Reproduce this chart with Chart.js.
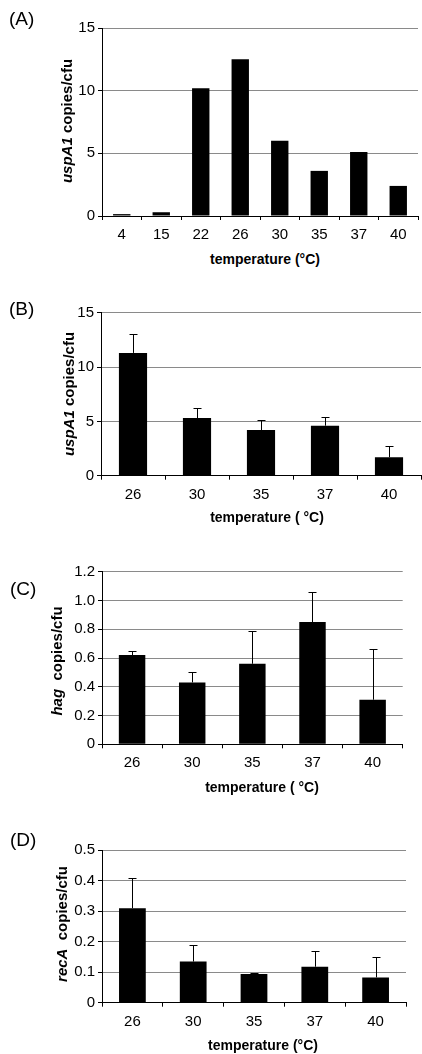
<!DOCTYPE html>
<html><head><meta charset="utf-8">
<script src="https://cdn.jsdelivr.net/npm/chart.js@4.4.1/dist/chart.umd.min.js"></script>
<style>
html,body{margin:0;padding:0;background:#fff;}
body{width:422px;height:1054px;position:relative;overflow:hidden;font-family:"Liberation Sans",Arial,sans-serif;color:#000;}
canvas{position:absolute;left:0;}
.lbl{position:absolute;font-size:19px;line-height:1;transform:translateY(-50%);white-space:nowrap;}
.yt{position:absolute;font-size:15px;font-weight:bold;white-space:pre;line-height:1;transform:translate(-50%,-50%) rotate(-90deg);}
.xt{position:absolute;font-size:14px;font-weight:bold;white-space:pre;line-height:1;transform:translate(-50%,-50%);}
</style></head><body>
<canvas id="cA" width="422" height="250" style="top:0px"></canvas>
<canvas id="cB" width="422" height="230" style="top:280px"></canvas>
<canvas id="cC" width="422" height="240" style="top:540px"></canvas>
<canvas id="cD" width="422" height="220" style="top:820px"></canvas>

<div class="lbl" style="left:9px;top:18px">(A)</div>
<div class="yt" style="left:66px;top:121px"><i>uspA1</i> copies/cfu</div>
<div class="xt" style="left:265px;top:259px">temperature (°C)</div>

<div class="lbl" style="left:9px;top:308px">(B)</div>
<div class="yt" style="left:68px;top:394px"><i>uspA1</i> copies/cfu</div>
<div class="xt" style="left:267px;top:517px">temperature ( °C)</div>

<div class="lbl" style="left:10px;top:588px">(C)</div>
<div class="yt" style="left:56px;top:661px"><i>hag</i>  copies/cfu</div>
<div class="xt" style="left:262px;top:787px">temperature ( °C)</div>

<div class="lbl" style="left:10px;top:839px">(D)</div>
<div class="yt" style="left:61px;top:924px"><i>recA</i>  copies/cfu</div>
<div class="xt" style="left:263px;top:1045px">temperature (°C)</div>

<script>
// ---- data ----
const catA = ['4', '15', '22', '26', '30', '35', '37', '40'];
const valA = [0.15, 0.3, 10.2, 12.5, 6.0, 3.6, 5.1, 2.4];
const ticksA = [0, 5, 10, 15];

const catBCD = ['26', '30', '35', '37', '40'];

const valB = [11.3, 5.3, 4.2, 4.6, 1.7];
const errB = [1.7, 0.9, 0.9, 0.8, 1.0];
const ticksB = [0, 5, 10, 15];

const valC = [0.62, 0.43, 0.56, 0.85, 0.31];
const errC = [0.03, 0.07, 0.23, 0.21, 0.35];
const ticksC = [0, 0.2, 0.4, 0.6, 0.8, 1.0, 1.2];

const valD = [0.31, 0.135, 0.094, 0.118, 0.083];
const errD = [0.10, 0.055, 0.003, 0.052, 0.067];
const ticksD = [0, 0.1, 0.2, 0.3, 0.4, 0.5];

// ---- drawing ----
const FONT = '"Liberation Sans", Arial, sans-serif';

const errPlugin = {
  id: 'err',
  afterDatasetsDraw(chart, args, opts) {
    if (!opts || !opts.values) return;
    const meta = chart.getDatasetMeta(0);
    const ys = chart.scales.y;
    const vals = chart.data.datasets[0].data;
    const ctx = chart.ctx;
    ctx.save();
    ctx.strokeStyle = '#000';
    ctx.lineWidth = 1;
    meta.data.forEach((bar, i) => {
      const x = Math.round(bar.x) + 0.5;
      const y0 = ys.getPixelForValue(vals[i]);
      const y1 = Math.round(ys.getPixelForValue(vals[i] + opts.values[i])) + 0.5;
      ctx.beginPath();
      ctx.moveTo(x, y0); ctx.lineTo(x, y1);
      ctx.moveTo(x - 4, y1); ctx.lineTo(x + 4, y1);
      ctx.stroke();
    });
    ctx.restore();
  }
};

function makeChart(id, cats, vals, errs, ticks, fmt, L) {
  return new Chart(document.getElementById(id), {
    type: 'bar',
    data: {
      labels: cats,
      datasets: [{
        data: vals,
        backgroundColor: '#000',
        borderWidth: 0,
        barPercentage: 0.44,
        categoryPercentage: 1.0
      }]
    },
    options: {
      responsive: false,
      animation: false,
      layout: { padding: { top: L.top, right: L.right, left: 0, bottom: 0 } },
      plugins: {
        legend: { display: false },
        tooltip: { enabled: false },
        err: { values: errs }
      },
      scales: {
        x: {
          grid: { display: true, drawOnChartArea: false, drawTicks: true, tickLength: 4, color: '#000', offset: true },
          border: { display: true, color: '#000', width: 1 },
          ticks: { color: '#000', font: { family: FONT, size: 15 }, padding: 6, maxRotation: 0, autoSkip: false },
          afterFit(s) { s.height = L.xh; }
        },
        y: {
          min: ticks[0],
          max: ticks[ticks.length - 1],
          afterBuildTicks(s) { s.ticks = ticks.map(v => ({ value: v })); },
          grid: {
            color: c => (c.tick && c.tick.value === 0) ? '#000' : '#8a8a8a',
            tickColor: '#000', tickLength: 4, drawTicks: true, lineWidth: 1
          },
          border: { display: true, color: '#000', width: 1 },
          ticks: { color: '#000', font: { family: FONT, size: 15 }, padding: 3, callback: fmt },
          afterFit(s) { s.width = L.yw; }
        }
      }
    },
    plugins: [errPlugin]
  });
}

const fmtInt = v => String(v);
const fmtDec = v => (v === 0 ? '0' : Number(v).toFixed(1));

makeChart('cA', catA, valA, null, ticksA, fmtInt, { top: 28, right: 4, xh: 34, yw: 102 });
makeChart('cB', catBCD, valB, errB, ticksB, fmtInt, { top: 32.7, right: 1, xh: 34.3, yw: 101 });
makeChart('cC', catBCD, valC, errC, ticksC, fmtDec, { top: 31.7, right: 19.3, xh: 35.7, yw: 102 });
makeChart('cD', catBCD, valD, errD, ticksD, fmtDec, { top: 30.3, right: 16, xh: 37.3, yw: 102 });
</script>
</body></html>
